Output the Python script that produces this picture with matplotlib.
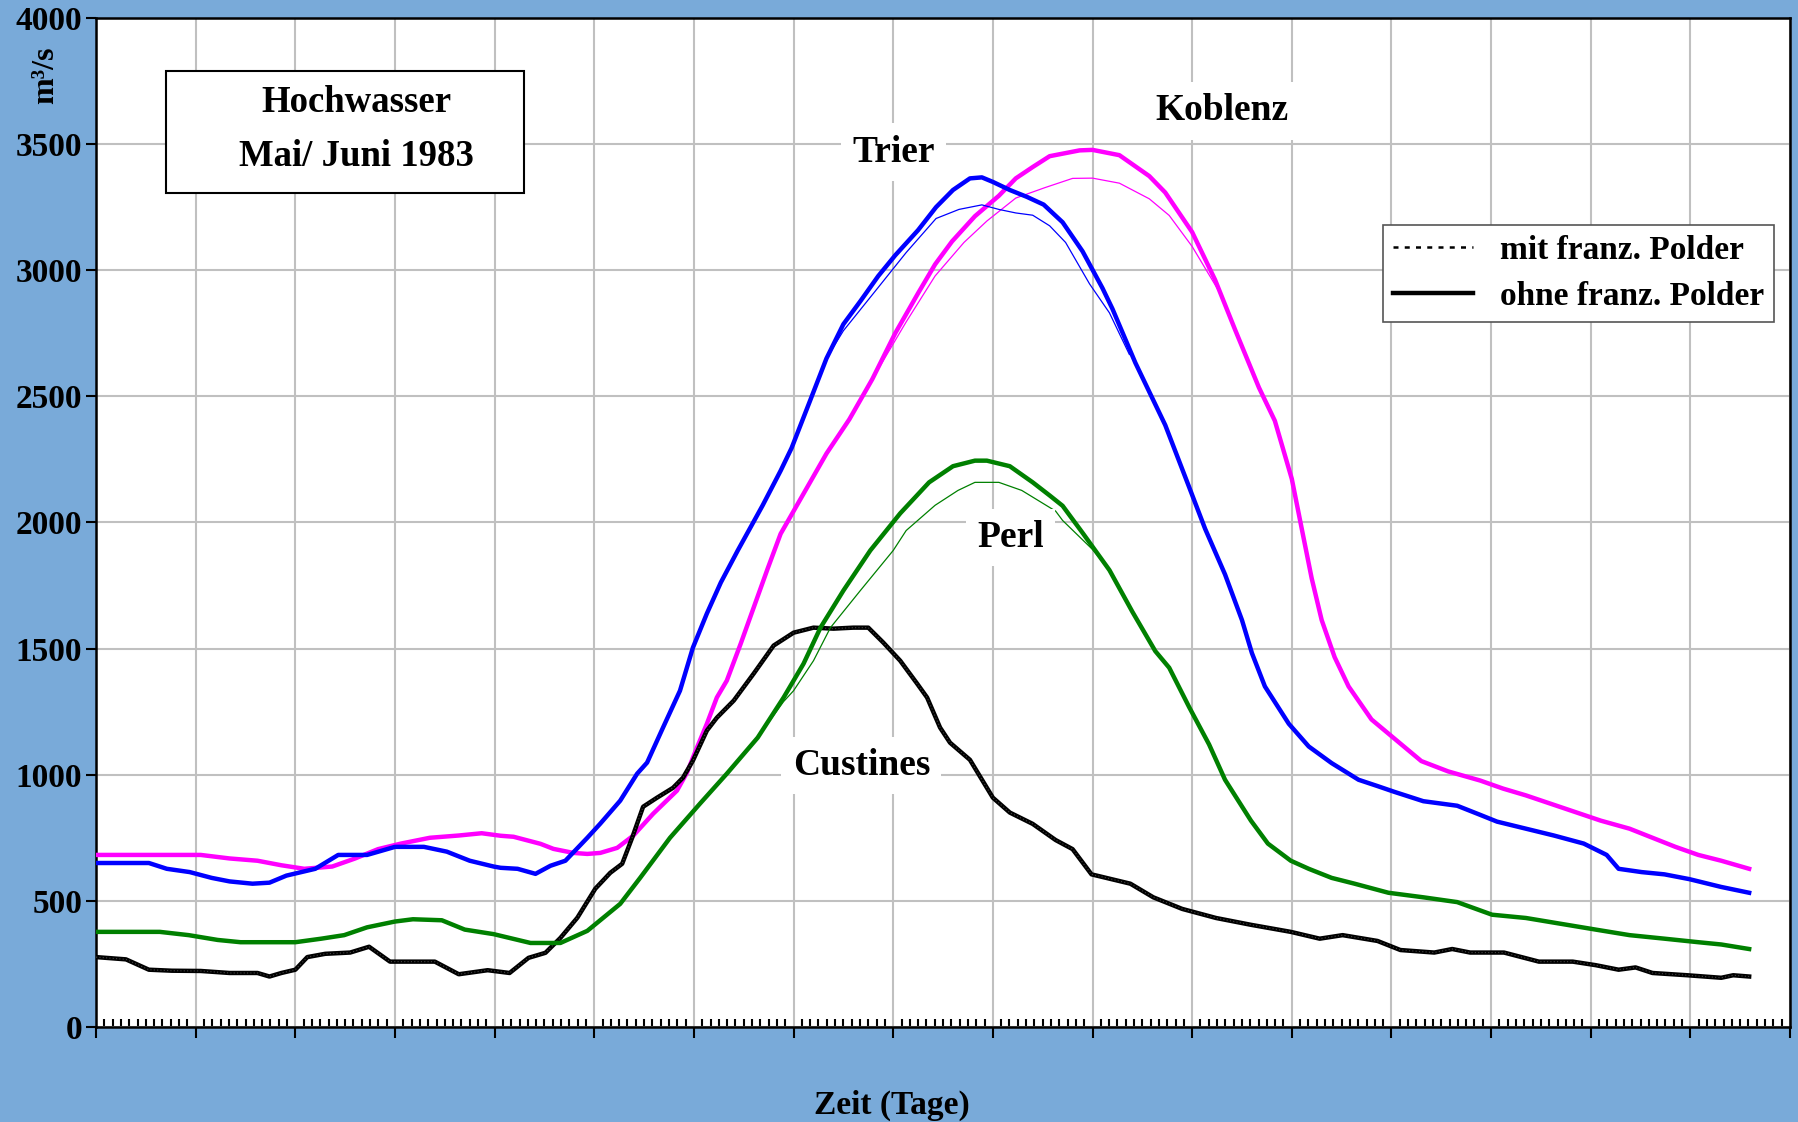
import numpy as np
import matplotlib
matplotlib.use('Agg')
import matplotlib.pyplot as plt
from matplotlib.lines import Line2D
from matplotlib.patches import Rectangle
from matplotlib.ticker import MultipleLocator

plt.rcParams['font.family'] = ['Liberation Serif', 'DejaVu Serif']
plt.rcParams['font.weight'] = 'bold'

# Abfluss in m3/s ueber Zeit in Tagen
custines_t = [0.0, 0.3, 0.53, 0.76, 1.05, 1.34, 1.62, 1.74, 1.86, 2.0, 2.12, 2.3, 2.55, 2.74, 2.95,
              3.4, 3.64, 3.93, 4.15, 4.34, 4.51, 4.66, 4.83, 5.01, 5.16, 5.28, 5.38, 5.49, 5.63,
              5.79, 5.89, 5.99, 6.13, 6.23, 6.4, 6.6, 6.8, 7.0, 7.2, 7.4, 7.6, 7.75, 7.9, 8.07,
              8.24, 8.34, 8.47, 8.57, 8.77, 9.0, 9.17, 9.4, 9.63, 9.8, 9.99, 10.38, 10.61, 10.9,
              11.24, 11.59, 11.99, 12.28, 12.51, 12.86, 13.09, 13.43, 13.61, 13.79, 14.13, 14.48,
              14.82, 15.05, 15.28, 15.45, 15.62, 15.97, 16.31, 16.43, 16.59]
custines_q = [277, 268, 227, 223, 222, 214, 214, 200, 214, 227, 277, 290, 295, 318, 259,
              259, 209, 225, 214, 274, 294, 353, 433, 548, 611, 647, 750, 873, 909,
              948, 988, 1056, 1175, 1226, 1294, 1401, 1512, 1563, 1583, 1579, 1583, 1583, 1524, 1452,
              1361, 1306, 1187, 1127, 1059, 909, 850, 805, 741, 705, 605, 568, 514, 468,
              432, 405, 377, 350, 364, 341, 305, 295, 309, 295, 295, 259,
              259, 245, 227, 236, 214, 205, 195, 205, 200]

perl_t = [0.0, 0.64, 0.93, 1.22, 1.45, 2.0, 2.26, 2.49, 2.72, 3.0, 3.18, 3.47, 3.7, 3.99, 4.36,
          4.66, 4.93, 5.26, 5.46, 5.76, 6.06, 6.33, 6.64, 6.9, 7.1, 7.27, 7.5, 7.77, 8.07, 8.36,
          8.6, 8.82, 8.94, 9.17, 9.4, 9.57, 9.7, 9.9, 10.17, 10.4, 10.63, 10.77, 10.97, 11.17,
          11.33, 11.59, 11.76, 11.99, 12.17, 12.4, 12.63, 12.97, 13.32, 13.66, 14.01, 14.35,
          14.7, 15.05, 15.39, 15.74, 16.08, 16.31, 16.59]
perl_q = [377, 377, 364, 345, 336, 336, 350, 364, 395, 418, 427, 423, 386, 368, 333,
          333, 381, 488, 591, 750, 885, 1004, 1147, 1306, 1440, 1583, 1730, 1889, 2036, 2159,
          2223, 2245, 2245, 2223, 2159, 2107, 2066, 1959, 1811, 1646, 1490, 1424, 1268, 1120,
          980, 818, 727, 659, 627, 591, 568, 532, 514, 495, 445, 432,
          409, 386, 364, 350, 336, 327, 309]
perl_mit_t = [6.64, 6.9, 7.0, 7.2, 7.37, 7.67, 8.0, 8.13, 8.42, 8.65, 8.82, 9.06, 9.29, 9.63,
              9.7, 10.0, 10.17]
perl_mit_q = [1147, 1290, 1333, 1452, 1583, 1730, 1889, 1968, 2068, 2127, 2159, 2159, 2127, 2045,
              2008, 1893, 1811]

trier_t = [0.0, 0.53, 0.71, 0.94, 1.16, 1.34, 1.57, 1.74, 1.91, 2.2, 2.43, 2.72, 3.0, 3.29, 3.52,
           3.75, 3.99, 4.06, 4.23, 4.41, 4.56, 4.71, 4.93, 5.06, 5.26, 5.43, 5.53, 5.69, 5.86,
           5.99, 6.13, 6.27, 6.44, 6.69, 6.87, 6.98, 7.16, 7.33, 7.5, 7.67, 7.85, 8.02, 8.25,
           8.43, 8.6, 8.77, 8.89, 9.0, 9.17, 9.34, 9.51, 9.7, 9.9, 10.1, 10.2, 10.43, 10.73,
           10.97, 11.13, 11.33, 11.5, 11.6, 11.73, 11.97, 12.17, 12.4, 12.67, 12.86, 13.03,
           13.32, 13.66, 13.89, 14.06, 14.35, 14.63, 14.93, 15.16, 15.28, 15.51, 15.74, 15.99,
           16.31, 16.59]
trier_q = [650, 650, 627, 614, 591, 577, 568, 572, 600, 627, 682, 682, 714, 714, 695,
           659, 636, 631, 627, 607, 639, 659, 750, 806, 897, 1004, 1048, 1187, 1333,
           1504, 1639, 1762, 1889, 2068, 2205, 2295, 2477, 2650, 2786, 2877, 2977, 3059, 3159,
           3250, 3318, 3364, 3368, 3350, 3318, 3291, 3260, 3190, 3075, 2929, 2847, 2633, 2386,
           2140, 1975, 1794, 1613, 1482, 1350, 1202, 1112, 1046, 980, 955, 932,
           895, 877, 841, 814, 786, 759, 727, 682, 627, 614, 605, 586,
           555, 532]
trier_mit_t = [7.33, 7.5, 7.85, 8.13, 8.43, 8.66, 8.89, 9.06, 9.23, 9.4, 9.57, 9.73, 9.97, 10.17,
               10.37]
trier_mit_q = [2650, 2760, 2932, 3070, 3205, 3241, 3259, 3241, 3227, 3218, 3176, 3110, 2946, 2831,
               2666]

koblenz_t = [0.0, 1.05, 1.34, 1.62, 1.86, 2.09, 2.37, 2.6, 2.83, 3.06, 3.35, 3.64, 3.87, 4.06,
             4.19, 4.46, 4.59, 4.79, 4.93, 5.06, 5.23, 5.39, 5.59, 5.83, 5.93, 6.03, 6.13, 6.23,
             6.33, 6.47, 6.6, 6.74, 6.87, 7.1, 7.33, 7.56, 7.79, 8.02, 8.25, 8.42, 8.59, 8.82,
             9.06, 9.23, 9.4, 9.57, 9.87, 10.0, 10.27, 10.57, 10.73, 11.0, 11.23, 11.43, 11.67,
             11.83, 12.0, 12.1, 12.2, 12.3, 12.43, 12.57, 12.8, 13.0, 13.3, 13.57, 13.89, 14.12,
             14.35, 14.59, 14.86, 15.1, 15.39, 15.62, 15.85, 16.08, 16.31, 16.59]
koblenz_q = [682, 682, 668, 659, 641, 627, 636, 668, 705, 727, 750, 759, 768, 758,
             754, 726, 706, 690, 686, 690, 710, 758, 845, 937, 1008, 1107, 1202, 1306,
             1373, 1520, 1663, 1817, 1955, 2114, 2273, 2409, 2568, 2750, 2909, 3023, 3114, 3214,
             3295, 3364, 3409, 3452, 3475, 3477, 3456, 3373, 3308, 3151, 2962, 2765, 2535,
             2403, 2173, 1975, 1778, 1613, 1466, 1350, 1219, 1153, 1054, 1013, 977, 945,
             918, 886, 850, 818, 786, 750, 714, 682, 659, 627]
koblenz_mit_t = [7.79, 8.13, 8.42, 8.71, 8.94, 9.23, 9.52, 9.8, 10.0, 10.27, 10.57, 10.77, 11.0,
                 11.3, 11.45]
koblenz_mit_q = [2568, 2795, 2977, 3110, 3195, 3286, 3327, 3364, 3365, 3345, 3283, 3217, 3094,
                 2896, 2750]

BG = '#79aad9'
GRID = '#c0c0c0'

fig = plt.figure(figsize=(17.99, 11.22), dpi=100, facecolor=BG)
ax = fig.add_axes([0.0534, 0.0847, 0.9416, 0.8993])
ax.set_facecolor('white')

ax.set_xlim(0, 17)
ax.set_ylim(0, 4000)
ax.xaxis.set_major_locator(MultipleLocator(1))
ax.xaxis.set_minor_locator(MultipleLocator(1 / 12))
ax.yaxis.set_major_locator(MultipleLocator(500))
ax.grid(True, which='major', color=GRID, linewidth=1.5, zorder=0)
ax.set_axisbelow(True)

ax.tick_params(axis='x', which='major', direction='out', length=8, width=1.5, labelbottom=False)
ax.tick_params(axis='x', which='minor', direction='in', length=6, width=1.5)
ax.tick_params(axis='y', which='major', direction='out', length=7, width=1.5, labelsize=24,
               pad=3)
for lbl in ax.get_yticklabels():
    lbl.set_fontweight('bold')
for sp in ax.spines.values():
    sp.set_linewidth(1.8)
    sp.set_color('black')

# ohne Polder: dick, mit Polder: duenn
LW = 3.2
ax.plot(koblenz_t, koblenz_q, color='#ff00ff', lw=LW, zorder=3)
ax.plot(koblenz_mit_t, koblenz_mit_q, color='#ff00ff', lw=0.9, zorder=3)
ax.plot(trier_t, trier_q, color='#0000ff', lw=LW, zorder=3)
ax.plot(trier_mit_t, trier_mit_q, color='#0000ff', lw=0.9, zorder=3)
ax.plot(custines_t, custines_q, color='black', lw=LW, zorder=3)
ax.plot(custines_t, custines_q, color='#444444', lw=0.8, ls=(0, (1, 2)), zorder=3)
ax.plot(perl_t, perl_q, color='#008000', lw=LW, zorder=3)
ax.plot(perl_mit_t, perl_mit_q, color='#008000', lw=0.9, zorder=3)

box = dict(facecolor='white', edgecolor='none', pad=8)
for name, tx, ty in [('Trier', 8.0, 3468), ('Koblenz', 11.3, 3632),
                     ('Perl', 9.18, 1941), ('Custines', 7.68, 1036)]:
    ax.text(tx, ty, name, fontsize=27, fontweight='bold', ha='center', va='center',
            bbox=box, zorder=5)

# Titelkasten
ax.add_patch(Rectangle((0.0413, 0.827), 0.2114, 0.1205, transform=ax.transAxes,
                       facecolor='white', edgecolor='black', lw=1.5, zorder=6))
ax.text(0.1535, 0.916, 'Hochwasser', transform=ax.transAxes, fontsize=26.5,
        fontweight='bold', ha='center', va='center', zorder=7)
ax.text(0.1535, 0.863, 'Mai/ Juni 1983', transform=ax.transAxes, fontsize=26.5,
        fontweight='bold', ha='center', va='center', zorder=7)

handles = [Line2D([], [], color='black', lw=1.8, ls=(0, (2, 2.5))),
           Line2D([], [], color='black', lw=3.2)]
leg = ax.legend(handles, ['mit franz. Polder', 'ohne franz. Polder'], loc='upper right',
                bbox_to_anchor=(0.9906, 0.795), fontsize=24, frameon=True, fancybox=False,
                edgecolor='#555555', framealpha=1, handlelength=2.4, handletextpad=0.8,
                borderpad=0.3, labelspacing=0.45, borderaxespad=0)
leg.get_frame().set_linewidth(1.2)
for t in leg.get_texts():
    t.set_fontweight('bold')
leg.set_zorder(6)

fig.text(46 / 1799, 1 - 75 / 1122, 'm³/s', rotation=90, fontsize=23, fontweight='bold',
         ha='center', va='center')
fig.text(0.4955, 1 - 1105 / 1122, 'Zeit (Tage)', fontsize=24, fontweight='bold',
         ha='center', va='center')

fig.savefig('out.png', dpi=100, facecolor=BG)
